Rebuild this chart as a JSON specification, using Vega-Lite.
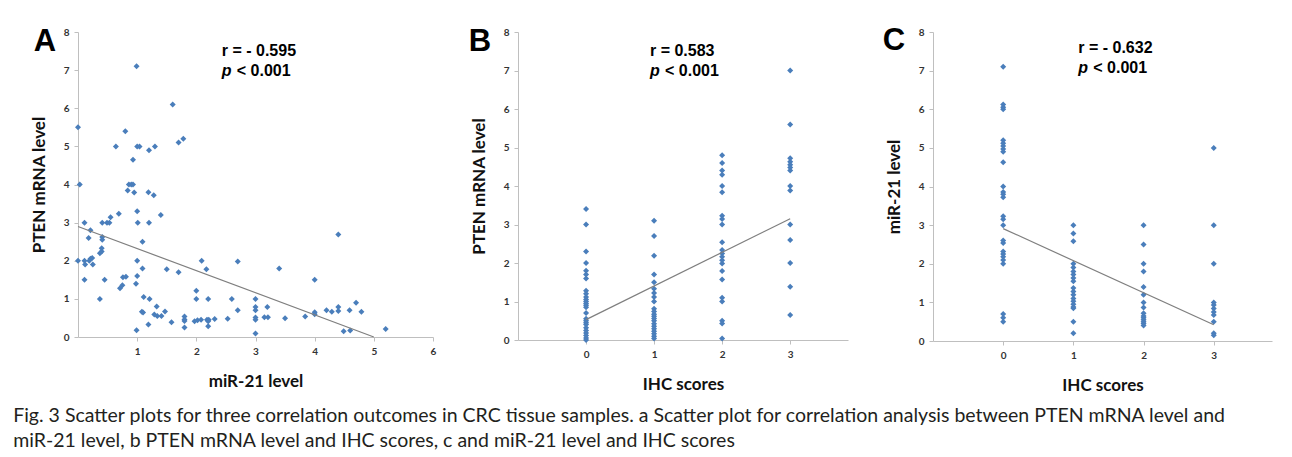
{
  "$schema": "https://vega.github.io/schema/vega-lite/v6.json",
  "background": "white",
  "padding": {"left": 13, "top": 24, "right": 10, "bottom": 5},
  "config": {
    "view": {"stroke": null},
    "axis": {
      "grid": false,
      "domainColor": "#bfbfbf",
      "tickColor": "#bfbfbf",
      "tickSize": 4,
      "labelFont": "Lato",
      "labelFontWeight": "bold",
      "labelFontSize": 10,
      "labelColor": "#333333",
      "labelPadding": 5,
      "labelOverlap": false,
      "labelFlush": false,
      "format": "d",
      "titleFont": "Lato",
      "titleFontWeight": "bold",
      "titleFontSize": 17,
      "titleColor": "#111111"
    },
    "text": {"font": "Liberation Sans", "fontWeight": "bold", "color": "#000000", "baseline": "middle"}
  },
  "title": {
    "text": [
      "Fig. 3 Scatter plots for three correlation outcomes in CRC tissue samples. a Scatter plot for correlation analysis between PTEN mRNA level and",
      "miR-21 level, b PTEN mRNA level and IHC scores, c and miR-21 level and IHC scores"
    ],
    "orient": "bottom",
    "anchor": "start",
    "frame": "bounds",
    "font": "Lato",
    "fontSize": 19.5,
    "fontWeight": "normal",
    "color": "#231f20",
    "lineHeight": 25,
    "offset": 14,
    "dx": -17
  },
  "datasets": {
    "a": [
      {"mir21": 0.0, "pten": 5.5}, {"mir21": 0.03, "pten": 4.0}, {"mir21": 0.0, "pten": 2.0}, {"mir21": 0.11, "pten": 3.0},
      {"mir21": 0.11, "pten": 2.0}, {"mir21": 0.12, "pten": 1.9}, {"mir21": 0.11, "pten": 1.5}, {"mir21": 0.18, "pten": 2.6},
      {"mir21": 0.21, "pten": 2.8}, {"mir21": 0.19, "pten": 2.0}, {"mir21": 0.21, "pten": 2.05}, {"mir21": 0.24, "pten": 2.07},
      {"mir21": 0.25, "pten": 1.9}, {"mir21": 0.37, "pten": 1.0}, {"mir21": 0.37, "pten": 2.2}, {"mir21": 0.4, "pten": 2.24},
      {"mir21": 0.4, "pten": 2.33}, {"mir21": 0.41, "pten": 2.55}, {"mir21": 0.41, "pten": 2.62}, {"mir21": 0.41, "pten": 3.0},
      {"mir21": 0.45, "pten": 1.5}, {"mir21": 0.49, "pten": 3.0}, {"mir21": 0.53, "pten": 3.0}, {"mir21": 0.55, "pten": 3.14},
      {"mir21": 0.64, "pten": 5.0}, {"mir21": 0.69, "pten": 3.23}, {"mir21": 0.71, "pten": 1.28}, {"mir21": 0.75, "pten": 1.36},
      {"mir21": 0.76, "pten": 1.57}, {"mir21": 0.81, "pten": 1.58}, {"mir21": 0.8, "pten": 5.4}, {"mir21": 0.84, "pten": 3.84},
      {"mir21": 0.86, "pten": 4.0}, {"mir21": 0.9, "pten": 4.0}, {"mir21": 0.93, "pten": 4.0}, {"mir21": 0.93, "pten": 4.65},
      {"mir21": 0.95, "pten": 3.79}, {"mir21": 0.98, "pten": 1.4}, {"mir21": 0.99, "pten": 0.18}, {"mir21": 0.99, "pten": 7.1},
      {"mir21": 1.0, "pten": 5.0}, {"mir21": 1.04, "pten": 5.0}, {"mir21": 1.0, "pten": 3.3}, {"mir21": 1.01, "pten": 3.0},
      {"mir21": 1.0, "pten": 2.0}, {"mir21": 1.0, "pten": 1.6}, {"mir21": 1.09, "pten": 2.5}, {"mir21": 1.09, "pten": 1.8},
      {"mir21": 1.11, "pten": 1.05}, {"mir21": 1.21, "pten": 1.0}, {"mir21": 1.08, "pten": 0.66}, {"mir21": 1.1, "pten": 0.64},
      {"mir21": 1.19, "pten": 0.33}, {"mir21": 1.2, "pten": 4.9}, {"mir21": 1.3, "pten": 5.0}, {"mir21": 1.19, "pten": 3.8},
      {"mir21": 1.28, "pten": 3.72}, {"mir21": 1.2, "pten": 3.0}, {"mir21": 1.4, "pten": 3.2}, {"mir21": 1.33, "pten": 0.8},
      {"mir21": 1.29, "pten": 0.59}, {"mir21": 1.34, "pten": 0.55}, {"mir21": 1.41, "pten": 0.55}, {"mir21": 1.47, "pten": 0.67},
      {"mir21": 1.5, "pten": 1.78}, {"mir21": 1.58, "pten": 0.39}, {"mir21": 1.6, "pten": 6.1}, {"mir21": 1.7, "pten": 5.1},
      {"mir21": 1.78, "pten": 5.2}, {"mir21": 1.7, "pten": 1.7}, {"mir21": 1.8, "pten": 0.54}, {"mir21": 1.8, "pten": 0.46},
      {"mir21": 1.8, "pten": 0.42}, {"mir21": 1.8, "pten": 0.25}, {"mir21": 2.0, "pten": 1.21}, {"mir21": 2.0, "pten": 1.0},
      {"mir21": 1.97, "pten": 0.41}, {"mir21": 2.02, "pten": 0.44}, {"mir21": 2.09, "pten": 2.0}, {"mir21": 2.17, "pten": 1.78},
      {"mir21": 2.08, "pten": 0.45}, {"mir21": 2.18, "pten": 0.45}, {"mir21": 2.21, "pten": 0.45}, {"mir21": 2.2, "pten": 0.41},
      {"mir21": 2.2, "pten": 1.0}, {"mir21": 2.2, "pten": 0.28}, {"mir21": 2.31, "pten": 0.47}, {"mir21": 2.53, "pten": 0.48},
      {"mir21": 2.6, "pten": 1.0}, {"mir21": 2.7, "pten": 1.98}, {"mir21": 2.7, "pten": 0.7}, {"mir21": 3.0, "pten": 1.0},
      {"mir21": 3.0, "pten": 0.79}, {"mir21": 3.0, "pten": 0.7}, {"mir21": 3.0, "pten": 0.51}, {"mir21": 3.0, "pten": 0.45},
      {"mir21": 3.0, "pten": 0.09}, {"mir21": 3.15, "pten": 0.52}, {"mir21": 3.2, "pten": 0.79}, {"mir21": 3.21, "pten": 0.52},
      {"mir21": 3.4, "pten": 1.8}, {"mir21": 3.5, "pten": 0.49}, {"mir21": 3.84, "pten": 0.54}, {"mir21": 4.0, "pten": 1.5},
      {"mir21": 4.0, "pten": 0.65}, {"mir21": 4.0, "pten": 0.6}, {"mir21": 4.2, "pten": 0.7}, {"mir21": 4.29, "pten": 0.66},
      {"mir21": 4.4, "pten": 2.69}, {"mir21": 4.4, "pten": 0.79}, {"mir21": 4.4, "pten": 0.68}, {"mir21": 4.49, "pten": 0.15},
      {"mir21": 4.59, "pten": 0.7}, {"mir21": 4.6, "pten": 0.17}, {"mir21": 4.7, "pten": 0.9}, {"mir21": 4.79, "pten": 0.66},
      {"mir21": 5.2, "pten": 0.21}
    ],
    "aLine": [{"mir21": 0, "pten": 2.9}, {"mir21": 5.0, "pten": 0}],
    "b": [
      {"ihc": 0, "pten": 3.4}, {"ihc": 0, "pten": 3.0}, {"ihc": 0, "pten": 2.3}, {"ihc": 0, "pten": 2.0}, {"ihc": 0, "pten": 1.8},
      {"ihc": 0, "pten": 1.7}, {"ihc": 0, "pten": 1.6}, {"ihc": 0, "pten": 1.28}, {"ihc": 0, "pten": 1.2}, {"ihc": 0, "pten": 1.12},
      {"ihc": 0, "pten": 1.05}, {"ihc": 0, "pten": 1.0}, {"ihc": 0, "pten": 0.95}, {"ihc": 0, "pten": 0.9}, {"ihc": 0, "pten": 0.85},
      {"ihc": 0, "pten": 0.7}, {"ihc": 0, "pten": 0.55}, {"ihc": 0, "pten": 0.5}, {"ihc": 0, "pten": 0.45}, {"ihc": 0, "pten": 0.4},
      {"ihc": 0, "pten": 0.32}, {"ihc": 0, "pten": 0.25}, {"ihc": 0, "pten": 0.18}, {"ihc": 0, "pten": 0.12}, {"ihc": 0, "pten": 0.05},
      {"ihc": 0, "pten": 0.0},
      {"ihc": 1, "pten": 3.1}, {"ihc": 1, "pten": 2.7}, {"ihc": 1, "pten": 2.19}, {"ihc": 1, "pten": 1.7}, {"ihc": 1, "pten": 1.5},
      {"ihc": 1, "pten": 1.33}, {"ihc": 1, "pten": 1.22}, {"ihc": 1, "pten": 1.12}, {"ihc": 1, "pten": 1.0}, {"ihc": 1, "pten": 0.81},
      {"ihc": 1, "pten": 0.74}, {"ihc": 1, "pten": 0.67}, {"ihc": 1, "pten": 0.62}, {"ihc": 1, "pten": 0.56}, {"ihc": 1, "pten": 0.5},
      {"ihc": 1, "pten": 0.42}, {"ihc": 1, "pten": 0.36}, {"ihc": 1, "pten": 0.29}, {"ihc": 1, "pten": 0.23}, {"ihc": 1, "pten": 0.16},
      {"ihc": 1, "pten": 0.1}, {"ihc": 1, "pten": 0.04},
      {"ihc": 2, "pten": 4.8}, {"ihc": 2, "pten": 4.6}, {"ihc": 2, "pten": 4.4}, {"ihc": 2, "pten": 4.29}, {"ihc": 2, "pten": 4.0},
      {"ihc": 2, "pten": 3.84}, {"ihc": 2, "pten": 3.23}, {"ihc": 2, "pten": 3.14}, {"ihc": 2, "pten": 3.0}, {"ihc": 2, "pten": 2.54},
      {"ihc": 2, "pten": 2.34}, {"ihc": 2, "pten": 2.25}, {"ihc": 2, "pten": 2.16}, {"ihc": 2, "pten": 2.07}, {"ihc": 2, "pten": 1.99},
      {"ihc": 2, "pten": 1.79}, {"ihc": 2, "pten": 1.57}, {"ihc": 2, "pten": 1.1}, {"ihc": 2, "pten": 1.0}, {"ihc": 2, "pten": 0.5},
      {"ihc": 2, "pten": 0.43}, {"ihc": 2, "pten": 0.04},
      {"ihc": 3, "pten": 7.0}, {"ihc": 3, "pten": 5.6}, {"ihc": 3, "pten": 4.72}, {"ihc": 3, "pten": 4.63}, {"ihc": 3, "pten": 4.55},
      {"ihc": 3, "pten": 4.48}, {"ihc": 3, "pten": 4.4}, {"ihc": 3, "pten": 4.0}, {"ihc": 3, "pten": 3.88}, {"ihc": 3, "pten": 3.0},
      {"ihc": 3, "pten": 2.6}, {"ihc": 3, "pten": 2.0}, {"ihc": 3, "pten": 1.38}, {"ihc": 3, "pten": 0.65}
    ],
    "bLine": [{"ihc": 0, "pten": 0.53}, {"ihc": 3, "pten": 3.15}],
    "c": [
      {"ihc": 0, "mir21": 7.1}, {"ihc": 0, "mir21": 6.12}, {"ihc": 0, "mir21": 6.05}, {"ihc": 0, "mir21": 6.0}, {"ihc": 0, "mir21": 5.2},
      {"ihc": 0, "mir21": 5.12}, {"ihc": 0, "mir21": 5.05}, {"ihc": 0, "mir21": 4.97}, {"ihc": 0, "mir21": 4.9}, {"ihc": 0, "mir21": 4.63},
      {"ihc": 0, "mir21": 4.0}, {"ihc": 0, "mir21": 3.86}, {"ihc": 0, "mir21": 3.8}, {"ihc": 0, "mir21": 3.72}, {"ihc": 0, "mir21": 3.23},
      {"ihc": 0, "mir21": 3.15}, {"ihc": 0, "mir21": 3.0}, {"ihc": 0, "mir21": 2.6}, {"ihc": 0, "mir21": 2.54}, {"ihc": 0, "mir21": 2.32},
      {"ihc": 0, "mir21": 2.25}, {"ihc": 0, "mir21": 2.18}, {"ihc": 0, "mir21": 2.1}, {"ihc": 0, "mir21": 2.0}, {"ihc": 0, "mir21": 0.7},
      {"ihc": 0, "mir21": 0.6}, {"ihc": 0, "mir21": 0.5},
      {"ihc": 1, "mir21": 3.0}, {"ihc": 1, "mir21": 2.78}, {"ihc": 1, "mir21": 2.58}, {"ihc": 1, "mir21": 2.0}, {"ihc": 1, "mir21": 1.9},
      {"ihc": 1, "mir21": 1.8}, {"ihc": 1, "mir21": 1.72}, {"ihc": 1, "mir21": 1.63}, {"ihc": 1, "mir21": 1.55}, {"ihc": 1, "mir21": 1.37},
      {"ihc": 1, "mir21": 1.28}, {"ihc": 1, "mir21": 1.2}, {"ihc": 1, "mir21": 1.1}, {"ihc": 1, "mir21": 1.03}, {"ihc": 1, "mir21": 0.95},
      {"ihc": 1, "mir21": 0.88}, {"ihc": 1, "mir21": 0.85}, {"ihc": 1, "mir21": 0.5}, {"ihc": 1, "mir21": 0.2},
      {"ihc": 2, "mir21": 3.0}, {"ihc": 2, "mir21": 2.5}, {"ihc": 2, "mir21": 2.0}, {"ihc": 2, "mir21": 1.8}, {"ihc": 2, "mir21": 1.4},
      {"ihc": 2, "mir21": 1.2}, {"ihc": 2, "mir21": 1.0}, {"ihc": 2, "mir21": 0.87}, {"ihc": 2, "mir21": 0.72}, {"ihc": 2, "mir21": 0.65},
      {"ihc": 2, "mir21": 0.6}, {"ihc": 2, "mir21": 0.55}, {"ihc": 2, "mir21": 0.5}, {"ihc": 2, "mir21": 0.45}, {"ihc": 2, "mir21": 0.4},
      {"ihc": 3, "mir21": 5.0}, {"ihc": 3, "mir21": 3.0}, {"ihc": 3, "mir21": 2.0}, {"ihc": 3, "mir21": 1.0}, {"ihc": 3, "mir21": 0.93},
      {"ihc": 3, "mir21": 0.84}, {"ihc": 3, "mir21": 0.75}, {"ihc": 3, "mir21": 0.67}, {"ihc": 3, "mir21": 0.5}, {"ihc": 3, "mir21": 0.2},
      {"ihc": 3, "mir21": 0.15}
    ],
    "cLine": [{"ihc": 0, "mir21": 2.91}, {"ihc": 3, "mir21": 0.42}],
    "one": [{"k": 1}]
  },
  "spacing": 85,
  "bounds": "flush",
  "hconcat": [
    {
      "width": 355,
      "height": 305,
      "layer": [
        {"data": {"name": "a"}, "mark": {"type": "point", "shape": "diamond", "filled": true, "size": 36, "color": "#4a7ebb", "opacity": 1},
         "encoding": {
           "x": {"field": "mir21", "type": "quantitative", "scale": {"domain": [0, 6], "nice": false, "zero": false},
                 "axis": {"title": "miR-21 level", "values": [1, 2, 3, 4, 5, 6], "titlePadding": 17}},
           "y": {"field": "pten", "type": "quantitative", "scale": {"domain": [0, 8], "nice": false},
                 "axis": {"title": "PTEN mRNA level", "values": [0, 1, 2, 3, 4, 5, 6, 7, 8], "titlePadding": 15}}
         }},
        {"data": {"name": "aLine"}, "mark": {"type": "line", "color": "#7f7f7f", "strokeWidth": 1.2},
         "encoding": {
           "x": {"field": "mir21", "type": "quantitative", "axis": {"title": "miR-21 level", "values": [1, 2, 3, 4, 5, 6], "titlePadding": 17}},
           "y": {"field": "pten", "type": "quantitative", "axis": {"title": "PTEN mRNA level", "values": [0, 1, 2, 3, 4, 5, 6, 7, 8], "titlePadding": 15}}
         }},
        {"data": {"name": "one"}, "mark": {"type": "text", "text": "A", "fontSize": 31, "align": "center"},
         "encoding": {
           "x": {"datum": -0.557, "type": "quantitative", "axis": {"title": "miR-21 level", "values": [1, 2, 3, 4, 5, 6], "titlePadding": 17}},
           "y": {"datum": 7.74, "type": "quantitative", "axis": {"title": "PTEN mRNA level", "values": [0, 1, 2, 3, 4, 5, 6, 7, 8], "titlePadding": 15}}
         }},
        {"data": {"name": "one"}, "mark": {"type": "text", "text": "r = - 0.595", "fontSize": 16, "align": "left"},
         "encoding": {
           "x": {"datum": 2.43, "type": "quantitative", "axis": {"title": "miR-21 level", "values": [1, 2, 3, 4, 5, 6], "titlePadding": 17}},
           "y": {"datum": 7.51, "type": "quantitative", "axis": {"title": "PTEN mRNA level", "values": [0, 1, 2, 3, 4, 5, 6, 7, 8], "titlePadding": 15}}
         }},
        {"data": {"name": "one"}, "mark": {"type": "text", "text": "p", "fontStyle": "italic", "fontSize": 16, "align": "left"},
         "encoding": {
           "x": {"datum": 2.43, "type": "quantitative", "axis": {"title": "miR-21 level", "values": [1, 2, 3, 4, 5, 6], "titlePadding": 17}},
           "y": {"datum": 6.98, "type": "quantitative", "axis": {"title": "PTEN mRNA level", "values": [0, 1, 2, 3, 4, 5, 6, 7, 8], "titlePadding": 15}}
         }},
        {"data": {"name": "one"}, "mark": {"type": "text", "text": "< 0.001", "dx": 15, "fontSize": 16, "align": "left"},
         "encoding": {
           "x": {"datum": 2.43, "type": "quantitative", "axis": {"title": "miR-21 level", "values": [1, 2, 3, 4, 5, 6], "titlePadding": 17}},
           "y": {"datum": 6.98, "type": "quantitative", "axis": {"title": "PTEN mRNA level", "values": [0, 1, 2, 3, 4, 5, 6, 7, 8], "titlePadding": 15}}
         }}
      ]
    },
    {
      "width": 330,
      "height": 308,
      "layer": [
        {"data": {"name": "b"}, "mark": {"type": "point", "shape": "diamond", "filled": true, "size": 36, "color": "#4a7ebb", "opacity": 1},
         "encoding": {
           "x": {"field": "ihc", "type": "quantitative", "scale": {"domain": [-1, 3.85], "nice": false, "zero": false},
                 "axis": {"title": "IHC scores", "values": [0, 1, 2, 3], "titlePadding": 17}},
           "y": {"field": "pten", "type": "quantitative", "scale": {"domain": [0, 8], "nice": false},
                 "axis": {"title": "PTEN mRNA level", "values": [0, 1, 2, 3, 4, 5, 6, 7, 8], "titlePadding": 15}}
         }},
        {"data": {"name": "bLine"}, "mark": {"type": "line", "color": "#7f7f7f", "strokeWidth": 1.2},
         "encoding": {
           "x": {"field": "ihc", "type": "quantitative", "axis": {"title": "IHC scores", "values": [0, 1, 2, 3], "titlePadding": 17}},
           "y": {"field": "pten", "type": "quantitative", "axis": {"title": "PTEN mRNA level", "values": [0, 1, 2, 3, 4, 5, 6, 7, 8], "titlePadding": 15}}
         }},
        {"data": {"name": "one"}, "mark": {"type": "text", "text": "B", "fontSize": 31, "align": "center"},
         "encoding": {
           "x": {"datum": -1.56, "type": "quantitative", "axis": {"title": "IHC scores", "values": [0, 1, 2, 3], "titlePadding": 17}},
           "y": {"datum": 7.74, "type": "quantitative", "axis": {"title": "PTEN mRNA level", "values": [0, 1, 2, 3, 4, 5, 6, 7, 8], "titlePadding": 15}}
         }},
        {"data": {"name": "one"}, "mark": {"type": "text", "text": "r = 0.583", "fontSize": 16, "align": "left"},
         "encoding": {
           "x": {"datum": 0.94, "type": "quantitative", "axis": {"title": "IHC scores", "values": [0, 1, 2, 3], "titlePadding": 17}},
           "y": {"datum": 7.51, "type": "quantitative", "axis": {"title": "PTEN mRNA level", "values": [0, 1, 2, 3, 4, 5, 6, 7, 8], "titlePadding": 15}}
         }},
        {"data": {"name": "one"}, "mark": {"type": "text", "text": "p", "fontStyle": "italic", "fontSize": 16, "align": "left"},
         "encoding": {
           "x": {"datum": 0.94, "type": "quantitative", "axis": {"title": "IHC scores", "values": [0, 1, 2, 3], "titlePadding": 17}},
           "y": {"datum": 6.99, "type": "quantitative", "axis": {"title": "PTEN mRNA level", "values": [0, 1, 2, 3, 4, 5, 6, 7, 8], "titlePadding": 15}}
         }},
        {"data": {"name": "one"}, "mark": {"type": "text", "text": "< 0.001", "dx": 15, "fontSize": 16, "align": "left"},
         "encoding": {
           "x": {"datum": 0.94, "type": "quantitative", "axis": {"title": "IHC scores", "values": [0, 1, 2, 3], "titlePadding": 17}},
           "y": {"datum": 6.99, "type": "quantitative", "axis": {"title": "PTEN mRNA level", "values": [0, 1, 2, 3, 4, 5, 6, 7, 8], "titlePadding": 15}}
         }}
      ]
    },
    {
      "width": 339,
      "height": 309,
      "layer": [
        {"data": {"name": "c"}, "mark": {"type": "point", "shape": "diamond", "filled": true, "size": 36, "color": "#4a7ebb", "opacity": 1},
         "encoding": {
           "x": {"field": "ihc", "type": "quantitative", "scale": {"domain": [-1, 3.83], "nice": false, "zero": false},
                 "axis": {"title": "IHC scores", "values": [0, 1, 2, 3], "titlePadding": 17}},
           "y": {"field": "mir21", "type": "quantitative", "scale": {"domain": [0, 8], "nice": false},
                 "axis": {"title": "miR-21 level", "values": [0, 1, 2, 3, 4, 5, 6, 7, 8], "titlePadding": 15}}
         }},
        {"data": {"name": "cLine"}, "mark": {"type": "line", "color": "#7f7f7f", "strokeWidth": 1.2},
         "encoding": {
           "x": {"field": "ihc", "type": "quantitative", "axis": {"title": "IHC scores", "values": [0, 1, 2, 3], "titlePadding": 17}},
           "y": {"field": "mir21", "type": "quantitative", "axis": {"title": "miR-21 level", "values": [0, 1, 2, 3, 4, 5, 6, 7, 8], "titlePadding": 15}}
         }},
        {"data": {"name": "one"}, "mark": {"type": "text", "text": "C", "fontSize": 31, "align": "center"},
         "encoding": {
           "x": {"datum": -1.557, "type": "quantitative", "axis": {"title": "IHC scores", "values": [0, 1, 2, 3], "titlePadding": 17}},
           "y": {"datum": 7.77, "type": "quantitative", "axis": {"title": "miR-21 level", "values": [0, 1, 2, 3, 4, 5, 6, 7, 8], "titlePadding": 15}}
         }},
        {"data": {"name": "one"}, "mark": {"type": "text", "text": "r = - 0.632", "fontSize": 16, "align": "left"},
         "encoding": {
           "x": {"datum": 1.07, "type": "quantitative", "axis": {"title": "IHC scores", "values": [0, 1, 2, 3], "titlePadding": 17}},
           "y": {"datum": 7.59, "type": "quantitative", "axis": {"title": "miR-21 level", "values": [0, 1, 2, 3, 4, 5, 6, 7, 8], "titlePadding": 15}}
         }},
        {"data": {"name": "one"}, "mark": {"type": "text", "text": "p", "fontStyle": "italic", "fontSize": 16, "align": "left"},
         "encoding": {
           "x": {"datum": 1.07, "type": "quantitative", "axis": {"title": "IHC scores", "values": [0, 1, 2, 3], "titlePadding": 17}},
           "y": {"datum": 7.07, "type": "quantitative", "axis": {"title": "miR-21 level", "values": [0, 1, 2, 3, 4, 5, 6, 7, 8], "titlePadding": 15}}
         }},
        {"data": {"name": "one"}, "mark": {"type": "text", "text": "< 0.001", "dx": 15, "fontSize": 16, "align": "left"},
         "encoding": {
           "x": {"datum": 1.07, "type": "quantitative", "axis": {"title": "IHC scores", "values": [0, 1, 2, 3], "titlePadding": 17}},
           "y": {"datum": 7.07, "type": "quantitative", "axis": {"title": "miR-21 level", "values": [0, 1, 2, 3, 4, 5, 6, 7, 8], "titlePadding": 15}}
         }}
      ]
    }
  ]
}
